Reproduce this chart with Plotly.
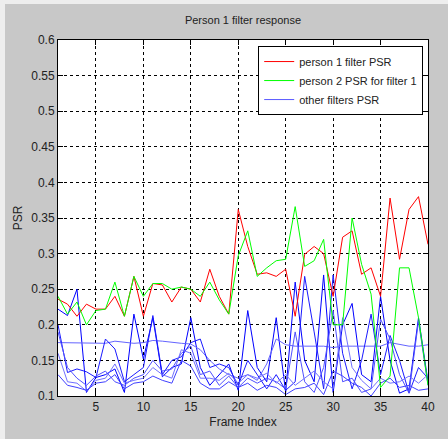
import plotly.graph_objects as go

frames = list(range(1, 41))

person1_psr = [0.236, 0.229, 0.212, 0.229, 0.222, 0.222, 0.240, 0.212, 0.268, 0.212,
               0.258, 0.256, 0.232, 0.253, 0.250, 0.232, 0.278, 0.240, 0.215, 0.362,
               0.310, 0.271, 0.273, 0.268, 0.278, 0.212, 0.299, 0.310, 0.300, 0.240,
               0.323, 0.332, 0.271, 0.280, 0.240, 0.378, 0.292, 0.362, 0.380, 0.313]

person2_psr = [0.240, 0.215, 0.232, 0.200, 0.220, 0.222, 0.260, 0.212, 0.268, 0.240,
               0.258, 0.258, 0.250, 0.253, 0.250, 0.240, 0.260, 0.235, 0.215, 0.297,
               0.332, 0.268, 0.280, 0.290, 0.292, 0.366, 0.282, 0.290, 0.320, 0.200,
               0.200, 0.350, 0.285, 0.243, 0.112, 0.128, 0.280, 0.280, 0.210, 0.115]

other_1 = [0.222, 0.213, 0.250, 0.105, 0.126, 0.130, 0.138, 0.105, 0.215, 0.152,
           0.210, 0.127, 0.140, 0.145, 0.210, 0.140, 0.115, 0.130, 0.145, 0.108,
           0.220, 0.140, 0.120, 0.210, 0.105, 0.260, 0.150, 0.120, 0.270, 0.105,
           0.200, 0.230, 0.130, 0.120, 0.240, 0.150, 0.104, 0.110, 0.210, 0.120]

other_2 = [0.175, 0.175, 0.175, 0.175, 0.175, 0.174, 0.177, 0.175, 0.174, 0.175,
           0.178, 0.177, 0.175, 0.174, 0.173, 0.165, 0.150, 0.138, 0.130, 0.125,
           0.130, 0.122, 0.145, 0.180, 0.172, 0.170, 0.170, 0.170, 0.170, 0.168,
           0.170, 0.170, 0.170, 0.170, 0.170, 0.175, 0.172, 0.170, 0.170, 0.172]

other_3 = [0.200, 0.133, 0.138, 0.134, 0.126, 0.180, 0.166, 0.120, 0.130, 0.140,
           0.213, 0.130, 0.150, 0.155, 0.175, 0.180, 0.140, 0.145, 0.140, 0.115,
           0.150, 0.130, 0.110, 0.130, 0.108, 0.120, 0.268, 0.190, 0.110, 0.270,
           0.160, 0.110, 0.150, 0.215, 0.130, 0.185, 0.150, 0.104, 0.140, 0.125]

other_4 = [0.190, 0.140, 0.125, 0.115, 0.128, 0.135, 0.120, 0.115, 0.125, 0.130,
           0.150, 0.135, 0.138, 0.160, 0.170, 0.130, 0.135, 0.115, 0.128, 0.112,
           0.125, 0.118, 0.125, 0.120, 0.110, 0.190, 0.120, 0.105, 0.140, 0.220,
           0.120, 0.125, 0.105, 0.110, 0.208, 0.180, 0.130, 0.104, 0.205, 0.115]

other_5 = [0.160, 0.120, 0.118, 0.107, 0.122, 0.125, 0.145, 0.118, 0.122, 0.125,
           0.140, 0.130, 0.125, 0.165, 0.160, 0.125, 0.125, 0.122, 0.132, 0.118,
           0.130, 0.125, 0.132, 0.118, 0.130, 0.115, 0.125, 0.135, 0.120, 0.110,
           0.210, 0.140, 0.122, 0.110, 0.125, 0.118, 0.120, 0.128, 0.118, 0.130]

other_6 = [0.130, 0.115, 0.112, 0.108, 0.118, 0.120, 0.130, 0.110, 0.118, 0.120,
           0.128, 0.122, 0.118, 0.150, 0.142, 0.118, 0.110, 0.110, 0.120, 0.112,
           0.118, 0.108, 0.115, 0.112, 0.102, 0.110, 0.112, 0.118, 0.102, 0.135,
           0.128, 0.118, 0.112, 0.100, 0.118, 0.125, 0.112, 0.115, 0.108, 0.110]

others = [other_1, other_2, other_3, other_4, other_5, other_6]
other_colors = ["#0000ff", "#6464ff", "#1a1aff", "#5050ff", "#7070ff", "#4040ff"]

x_ticks = [5, 10, 15, 20, 25, 30, 35, 40]
y_ticks = [0.1, 0.15, 0.2, 0.25, 0.3, 0.35, 0.4, 0.45, 0.5, 0.55, 0.6]
y_tick_labels = ["0.1", "0.15", "0.2", "0.25", "0.3", "0.35", "0.4", "0.45", "0.5", "0.55", "0.6"]

fig = go.Figure()

for vals, col in zip(others, other_colors):
    fig.add_trace(go.Scatter(x=frames, y=vals, mode="lines",
                             line=dict(color=col, width=1),
                             name="other filters PSR", showlegend=False))

fig.add_trace(go.Scatter(x=frames, y=person1_psr, mode="lines",
                         line=dict(color="#ff0000", width=1),
                         name="person 1 filter PSR", legendrank=1))
fig.add_trace(go.Scatter(x=frames, y=person2_psr, mode="lines",
                         line=dict(color="#00ff00", width=1),
                         name="person 2 PSR for filter 1", legendrank=2))
fig.add_trace(go.Scatter(x=[None], y=[None], mode="lines",
                         line=dict(color="#5a5aff", width=1),
                         name="other filters PSR", legendrank=3))

font_fam = "Liberation Sans, Arial, sans-serif"
txt_col = "#222222"

fig.update_layout(
    width=443, height=435,
    margin=dict(l=50, r=20, t=36, b=42),
    paper_bgcolor="#c8c8c8",
    plot_bgcolor="white",
    font=dict(family=font_fam, size=11, color=txt_col),
    title=dict(text="Person 1 filter response", x=0.5, xref="paper",
               y=1 - 16 / 435, yref="container", yanchor="middle",
               font=dict(size=11, family=font_fam, color=txt_col)),
    showlegend=True,
    legend=dict(x=0.987, xanchor="right", y=0.983, yanchor="top",
                bgcolor="white", bordercolor="black", borderwidth=1,
                font=dict(size=11, family=font_fam, color=txt_col),
                traceorder="normal", tracegroupgap=0, itemwidth=30),
    xaxis=dict(range=[1, 40], tickvals=x_ticks,
               showgrid=True, gridcolor="black", griddash="3px,3px", gridwidth=1,
               ticks="inside", ticklen=5, tickcolor="black",
               showline=True, linecolor="black", linewidth=1, mirror="ticks",
               zeroline=False,
               tickfont=dict(size=12, family=font_fam, color=txt_col),
               title=dict(text="Frame Index", standoff=4,
                          font=dict(size=12, family=font_fam, color=txt_col))),
    yaxis=dict(range=[0.1, 0.6], tickvals=y_ticks, ticktext=y_tick_labels,
               showgrid=True, gridcolor="black", griddash="3px,3px", gridwidth=1,
               ticks="inside", ticklen=5, tickcolor="black",
               showline=True, linecolor="black", linewidth=1, mirror="ticks",
               zeroline=False,
               tickfont=dict(size=12, family=font_fam, color=txt_col),
               title=dict(text="PSR", standoff=6,
                          font=dict(size=12, family=font_fam, color=txt_col))),
)

fig.write_html("out.html",
               post_script="document.body.style.margin='4px 0 0 5px';"
                           "document.body.style.background='#eeeeee';")
